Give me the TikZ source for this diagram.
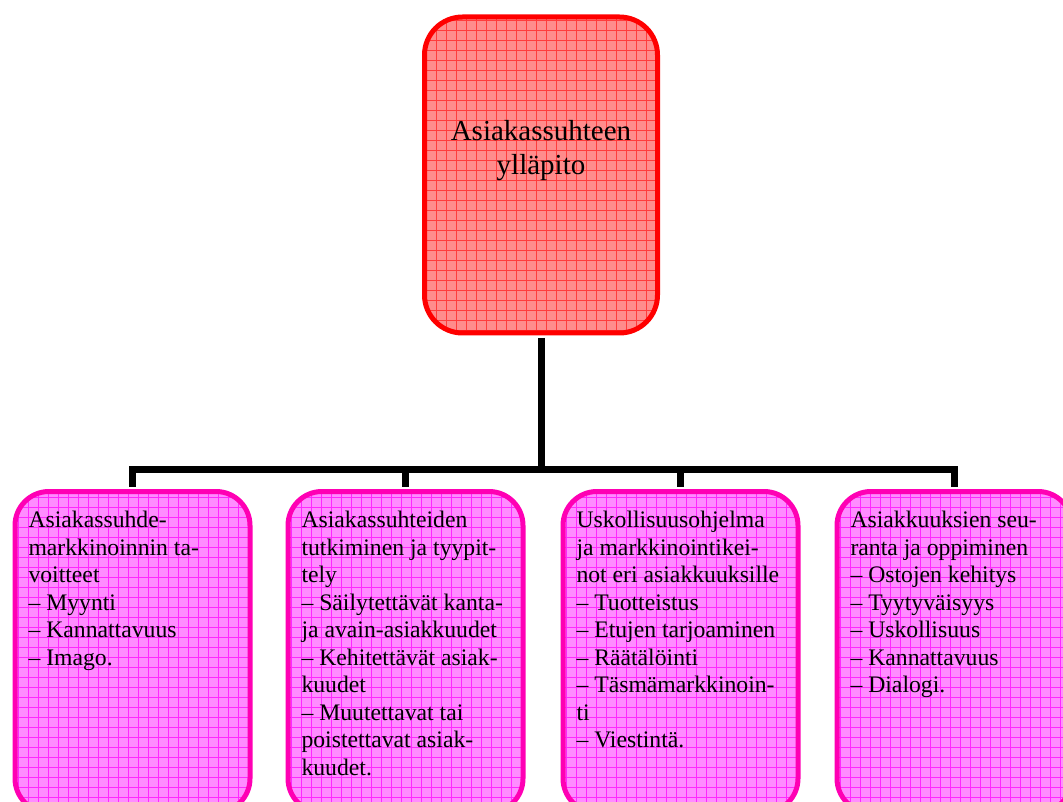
\documentclass[tikz,border=0pt]{standalone}
\usepackage{fontspec}
\setmainfont{Liberation Serif}
\usepackage{tikz}
\usetikzlibrary{calc}

\definecolor{rootline}{HTML}{FF0000}
\definecolor{rootfill}{HTML}{FF8C8C}
\definecolor{rootgrid}{HTML}{FF3C3C}
\definecolor{leafline}{HTML}{FF00B4}
\definecolor{leaffill}{HTML}{FF8CFF}
\definecolor{leafgrid}{HTML}{FF28FF}

\newcommand{\leaftext}[1]{\parbox[t][281pt][t]{208pt}{\raggedright
  \fontsize{23.7}{27.5}\selectfont #1}}

\begin{document}
\begin{tikzpicture}
  [x=1pt,y=-1pt,every node/.style={inner sep=0pt}]

  \tikzstyle{root} = [draw=rootline, line width=5pt, rounded corners=38pt,
    fill=rootfill, inner xsep=12pt, inner ysep=103.7pt, anchor=north,
    path picture={\draw[rootgrid, line width=0.9pt]
      (path picture bounding box.south west) grid[step=10pt]
      (path picture bounding box.north east);}]
  \tikzstyle{leaf} = [draw=leafline, line width=5pt, rounded corners=34pt,
    fill=leaffill, inner xsep=13.5pt, inner ysep=20pt, anchor=north west,
    path picture={\draw[leafgrid, line width=0.9pt]
      (path picture bounding box.south west) grid[step=10pt]
      (path picture bounding box.north east);}]
  \tikzstyle{conn} = [draw=black, line width=7pt, shorten <=2.5pt, shorten >=2.5pt]

  \useasboundingbox (0,0) rectangle (1063,802);

  \node[root] (root) at (541,14.5)
    {\parbox[t][108.6pt][t]{209pt}{\centering
      \fontsize{29}{33.5}\selectfont Asiakassuhteen\\ylläpito}};

  \node[leaf] (b1) at (12.5,489) {\leaftext{Asiakassuhde-\\
    markkinoinnin ta-\\ voitteet\\ – Myynti\\ – Kannattavuus\\ – Imago.}};
  \node[leaf] (b2) at (285.5,489) {\leaftext{Asiakassuhteiden\\
    tutkiminen ja tyypit-\\ tely\\ – Säilytettävät kanta-\\
    ja avain-asiakkuudet\\ – Kehitettävät asiak-\\ kuudet\\
    – Muutettavat tai\\ poistettavat asiak-\\ kuudet.}};
  \node[leaf] (b3) at (560.5,489) {\leaftext{Uskollisuusohjelma\\
    ja markkinointikei-\\ not eri asiakkuuksille\\ – Tuotteistus\\
    – Etujen tarjoaminen\\ – Räätälöinti\\ – Täsmämarkkinoin-\\ ti\\
    – Viestintä.}};
  \node[leaf] (b4) at (834.5,489) {\leaftext{Asiakkuuksien seu-\\
    ranta ja oppiminen\\ – Ostojen kehitys\\ – Tyytyväisyys\\
    – Uskollisuus\\ – Kannattavuus\\ – Dialogi.}};

  \coordinate (bus) at (541,469);

  \path[conn] (root) -- (bus);
  \path[conn] (b1) -- (b1 |- bus) -- (b4 |- bus) -- (b4);
  \path[conn] (b2) -- (b2 |- bus);
  \path[conn] (b3) -- (b3 |- bus);
\end{tikzpicture}
\end{document}
